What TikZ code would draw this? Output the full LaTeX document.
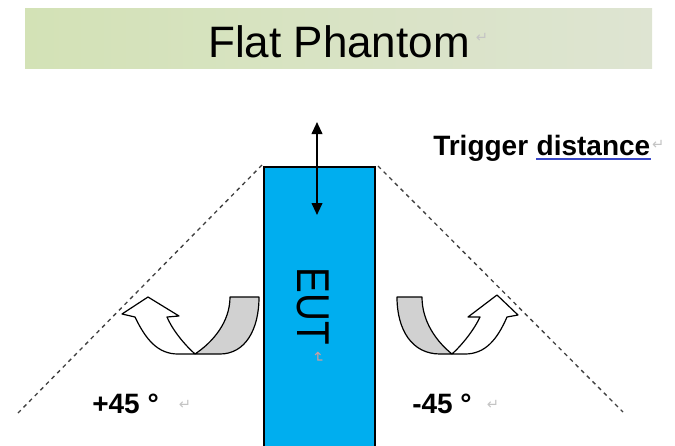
\documentclass[tikz,border=0pt]{standalone}
\usepackage{fontspec}
\setmainfont{Liberation Sans}
\newfontfamily\djv{DejaVu Sans}
\usetikzlibrary{arrows.meta}
\definecolor{bannerL}{HTML}{D3E2B6}
\definecolor{bannerR}{HTML}{DEE4D2}
\definecolor{eutblue}{HTML}{00AEEF}
\definecolor{markgray}{HTML}{C4C4C4}
\definecolor{ulblue}{HTML}{3A48C8}
\tikzset{
  banner/.style={left color=bannerL, right color=bannerR, draw=none},
  eutbox/.style={fill=eutblue, draw=black, line width=1.2pt},
  guide/.style={draw=black!75, line width=1pt, dash pattern=on 3pt off 3pt},
  ribbon/.style={draw=black, line width=0.9pt, line join=round},
  ribbongray/.style={ribbon, fill=black!18},
  ribbonwhite/.style={ribbon, fill=white},
  lbl/.style={font=\bfseries\fontsize{21}{24}\selectfont, inner sep=0pt},
  retmark/.style={text=markgray, font=\djv\fontsize{11}{12}\selectfont, inner sep=0pt},
  dbl/.style={line width=1.4pt, {Triangle[length=9pt,width=8pt]}-{Triangle[length=9pt,width=8pt]}}
}
\begin{document}
\begin{tikzpicture}[x=0.75pt,y=-0.75pt]
\useasboundingbox (0,0) rectangle (675,446);
% banner
\node[banner, minimum width=627*0.75pt, minimum height=60*0.75pt, inner sep=0pt] (banner) at (338.5,38) {};
\node[inner sep=0pt, font=\fontsize{33}{36}\selectfont] (title) at (339,42) {Flat Phantom};
\node[retmark] (titleret) at (482,38) {↵};
% dashed guide lines
\coordinate (lt) at (262,165);
\coordinate (lb) at (18,413);
\coordinate (rt) at (378,166);
\coordinate (rb) at (623,412);
\draw[guide] (lt) -- (lb);
\draw[guide] (rt) -- (rb);
% EUT box
\node[eutbox, minimum width=111*0.75pt, minimum height=280*0.75pt, inner sep=0pt, anchor=north west] (eut) at (263,166) {};
\node[rotate=-90, inner sep=0pt] (euttext) at (313,306) {\scalebox{0.84}[1]{\fontsize{34.5}{36}\selectfont EUT}};
\node[retmark, rotate=-90, text=red!20!markgray] (eutret) at (318,358) {↵};
% trigger distance arrow
\coordinate (atop) at (317,122);
\coordinate (abot) at (317,215);
\draw[dbl] (atop) -- (abot);
\node[lbl, anchor=base west] (trig) at (433,155) {Trigger};
\node[lbl, anchor=base west] (dist) at ([xshift=6pt]trig.base east) {distance};
\draw[ulblue, line width=1pt] ([yshift=-3pt]dist.base west) -- ([yshift=-3pt]dist.base east);
\node[retmark, anchor=west] (trigret) at ([xshift=1pt]dist.east) {↵};
% left curved arrow
\draw[ribbongray] (195,354) -- (220,354) .. controls (245,354) and (259,330) .. (259,297) -- (230,297) .. controls (230,322) and (213,342) .. (195,354) -- cycle;
\draw[ribbonwhite] (135,317) .. controls (146,340) and (158,354) .. (178,354) -- (195,354) .. controls (185,345) and (173,331) .. (167,317) -- (179,316) -- (148,297) -- (122,314) -- cycle;
% right curved arrow
\draw[ribbongray] (452,354) -- (440,354) .. controls (412,354) and (397,330) .. (397,297) -- (422,297) .. controls (422,322) and (437,342) .. (452,354) -- cycle;
\draw[ribbonwhite] (452,354) .. controls (462,345) and (474,330) .. (480,317) -- (468,317) -- (497,295) -- (518,315) -- (507,317) .. controls (497,340) and (485,354) .. (465,354) -- cycle;
% angle labels
\node[lbl, anchor=base west] (plus) at (92,413) {+45 °};
\node[retmark] (plusret) at (185,405) {↵};
\node[lbl, anchor=base west] (minus) at (412,413) {-45 °};
\node[retmark] (minusret) at (493,405) {↵};
\end{tikzpicture}
\end{document}
